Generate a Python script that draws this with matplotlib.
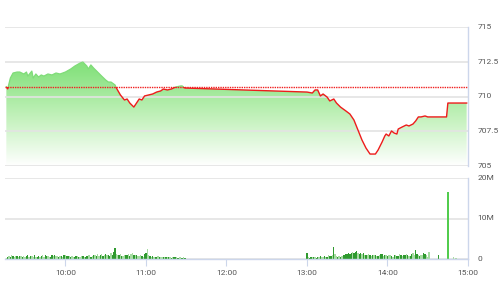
import numpy as np
import pandas as pd
import matplotlib
matplotlib.use("Agg")
import matplotlib.pyplot as plt
import matplotlib.dates as mdates
from matplotlib.colors import LinearSegmentedColormap

DAY = "2020-01-02 "

# intraday index
price_time = ["09:16", "09:17", "09:19", "09:21", "09:24", "09:26", "09:29", "09:31", "09:32",
              "09:35", "09:36", "09:38", "09:40", "09:42", "09:44", "09:47", "09:50", "09:53",
              "09:56", "10:00", "10:04", "10:07", "10:11", "10:13", "10:16", "10:17", "10:19",
              "10:21", "10:24", "10:27", "10:30", "10:32", "10:34", "10:37", "10:38", "10:41",
              "10:44", "10:46", "10:48", "10:51", "10:53", "10:55", "10:57", "10:59", "11:02",
              "11:05", "11:08", "11:11", "11:13", "11:16", "11:19", "11:22", "11:26", "11:27",
              "11:29", "13:00", "13:04", "13:06", "13:08", "13:10", "13:12", "13:15", "13:17",
              "13:20", "13:22", "13:25", "13:29", "13:32", "13:35", "13:38", "13:41", "13:44",
              "13:47", "13:51", "13:53", "13:56", "13:58", "13:59", "14:01", "14:03", "14:05",
              "14:07", "14:08", "14:11", "14:14", "14:16", "14:19", "14:21", "14:23", "14:25",
              "14:28", "14:30", "14:44", "14:45", "14:59"]
price = [710.70, 710.55, 711.33, 711.69, 711.76, 711.76, 711.62, 711.76, 711.47,
         711.83, 711.33, 711.62, 711.40, 711.55, 711.47, 711.62, 711.55, 711.69,
         711.62, 711.76, 711.98, 712.19, 712.41, 712.48, 712.19, 711.98, 712.27,
         712.05, 711.76, 711.47, 711.19, 711.04, 711.04, 710.83, 710.61, 710.11,
         709.75, 709.82, 709.53, 709.24, 709.53, 709.82, 709.75, 710.04, 710.11,
         710.18, 710.32, 710.40, 710.54, 710.47, 710.54, 710.68, 710.76, 710.76,
         710.61, 710.32, 710.25, 710.47, 710.47, 710.04, 710.18, 709.96, 709.68,
         709.82, 709.53, 709.24, 708.96, 708.74, 708.31, 707.59, 706.87, 706.29,
         705.86, 705.86, 706.15, 706.73, 707.16, 707.30, 707.16, 707.52, 707.37,
         707.30, 707.66, 707.81, 707.95, 707.88, 708.02, 708.24, 708.53, 708.53,
         708.60, 708.53, 708.53, 709.53, 709.53]
ref_price = 710.7

# volume in millions, one bar per minute
vol_am = [0.3, 0.6, 0.8, 0.5, 0.9, 0.7, 0.6, 0.8, 0.7, 0.5,
          0.7, 0.8, 0.6, 0.7, 0.6, 0.8, 0.9, 0.6, 0.7, 0.8,
          0.5, 0.9, 0.6, 0.4, 0.7, 0.5, 0.8, 1.0, 0.6, 0.9,
          0.7, 0.8, 0.6, 0.5, 1.1, 0.7, 0.9, 0.8, 0.7, 0.6,
          0.8, 0.7, 0.5, 0.9, 1.0, 0.8, 0.7, 0.8, 0.6, 0.7,
          0.6, 0.5, 0.7, 0.8, 0.6, 0.5, 0.8, 0.7, 0.6, 0.5,
          0.7, 0.9, 1.1, 0.6, 0.8, 0.9, 1.0, 0.7, 1.2, 0.8,
          0.9, 1.3, 0.8, 1.0, 1.2, 0.9, 1.1, 0.8, 1.4, 1.0,
          1.8, 2.8, 1.3, 0.9, 1.0, 1.2, 0.8, 0.7, 1.1, 0.9,
          1.0, 1.3, 0.8, 1.2, 1.5, 0.9, 1.0, 1.1, 0.7, 0.8,
          1.0, 0.8, 0.6, 1.2, 1.6, 2.4, 1.0, 0.8, 0.6, 0.7,
          0.5, 0.6, 0.5, 0.7, 0.4, 0.5, 0.6, 0.5, 0.4, 0.5,
          0.6, 0.4, 0.5, 0.3, 0.5, 0.6, 0.4, 0.5, 0.3, 0.5,
          0.4, 0.3, 0.4, 0.3]
shade_am = ("ldldldlldl" "dldllddldl" "ldlddldlld" "dllddldlld" "ldldlddldl" "lddldlldld"
            "dlldldldll" "dldldlddld" "ddlldldlld" "dldlldldll" "ldlddlldld" "lddldlldld"
            "ldldlddldl" "ldld")
vol_pm = [1.4, 0.5, 0.3, 0.4, 0.6, 0.4, 0.5, 0.3, 0.6, 0.5,
          0.7, 0.5, 0.6, 0.8, 0.5, 0.6, 0.9, 0.7, 0.8, 1.0,
          3.0, 1.2, 0.8, 0.6, 0.7, 0.5, 0.8, 0.9, 1.0, 1.2,
          1.3, 1.5, 1.2, 1.6, 1.8, 1.4, 1.7, 1.9, 1.5, 1.3,
          1.6, 1.2, 1.4, 1.0, 1.1, 0.9, 1.2, 1.0, 0.8, 1.1,
          0.9, 1.0, 0.8, 0.7, 0.9, 1.3, 1.2, 0.8, 0.9, 1.0,
          0.8, 0.9, 1.1, 0.8, 0.6, 0.9, 1.0, 0.7, 0.8, 1.2,
          1.0, 0.8, 1.1, 0.9, 1.3, 1.0, 0.8, 0.7, 1.2, 1.4,
          0.9, 2.1, 1.3, 1.0, 0.8, 1.1, 0.9, 1.5, 1.2, 1.0,
          0.4, 1.7]
shade_pm = ("dlddldlddl" "dlldldlddl" "dlldldlddd" "ddddldddld" "dldldlldld" "ldldlddldl"
            "dlldldlddl" "dlddldlddl" "lddldllddl" "ll")
vol_extra_time = ["14:38", "14:45", "14:49", "14:51"]
vol_extra = [1.0, 16.5, 0.4, 0.2]
shade_extra = "dmll"

hour_ticks = ["10:00", "11:00", "12:00", "13:00", "14:00", "15:00"]
price_ticks = [705, 707.5, 710, 712.5, 715]
price_labels = ["705", "707.5", "710", "712.5", "715"]
vol_ticks = [0, 10, 20]
vol_labels = ["0", "10M", "20M"]

t_price = pd.to_datetime([DAY + s for s in price_time])
t_am = pd.date_range(DAY + "09:16", periods=len(vol_am), freq="1min")
t_pm = pd.date_range(DAY + "13:00", periods=len(vol_pm), freq="1min")
t_vol = list(t_am) + list(t_pm) + list(pd.to_datetime([DAY + s for s in vol_extra_time]))
vol = vol_am + vol_pm + vol_extra
shade = shade_am + shade_pm + shade_extra
shade_col = {"d": "#2f9a2f", "l": "#a6dca2", "m": "#52cc4e"}

xmin = pd.Timestamp(DAY + "09:15")
xmax = pd.Timestamp(DAY + "15:00")
grid_c = "#e3e3e3"
axis_c = "#ccd6eb"
text_c = "#555555"
plt.rcParams["font.family"] = ["Roboto", "DejaVu Sans"]

fig = plt.figure(figsize=(5.01, 3.0), dpi=100)
ax = fig.add_axes([5 / 501, 134 / 300, 463 / 501, 139 / 300])
axv = fig.add_axes([5 / 501, 41 / 300, 463 / 501, 81 / 300])

# price panel
ax.set_xlim(xmin, xmax)
ax.set_ylim(705, 715)
tn = mdates.date2num(t_price)
poly = ax.fill_between(tn, price, 705, color="none", lw=0)
grad = np.linspace(1, 0, 256).reshape(-1, 1)
cmap = LinearSegmentedColormap.from_list("g", ["#ffffff", "#c6f2bf", "#8ce384", "#6cdb64"])
img = ax.imshow(grad, cmap=cmap, aspect="auto", vmin=0, vmax=1,
                extent=[mdates.date2num(xmin), mdates.date2num(xmax), 705, 715], zorder=1)
img.set_clip_path(poly.get_paths()[0], transform=ax.transData)
ax.set_xlim(xmin, xmax)
ax.set_ylim(705, 715)

red, = ax.plot(t_price, price, color="#ee1c1c", lw=1.0, zorder=3)
green, = ax.plot(t_price, price, color="#7fdc78", lw=0.9, zorder=3)
x0, x1 = mdates.date2num(xmin), mdates.date2num(xmax)
low = plt.Rectangle((x0, 700), x1 - x0, ref_price - 700, transform=ax.transData)
high = plt.Rectangle((x0, ref_price), x1 - x0, 20, transform=ax.transData)
red.set_clip_path(low)
green.set_clip_path(high)
ax.axhline(ref_price, color="#f02020", lw=1.0, ls=(0, (1.0, 0.7)), zorder=4)

ax.set_yticks(price_ticks)
ax.set_yticklabels(price_labels)
ax.grid(axis="y", color=grid_c, lw=1.2, zorder=0)
ax.set_xticks([])

# volume panel
colors = [shade_col[c] for c in shade]
axv.bar(t_vol, vol, width=1.0 / 1440, color=colors, lw=0, zorder=2, antialiased=False)
axv.set_xlim(xmin, xmax)
axv.set_ylim(0, 20)
axv.set_yticks(vol_ticks)
axv.set_yticklabels(vol_labels)
axv.grid(axis="y", color=grid_c, lw=1.2, zorder=0)
axv.set_xticks(pd.to_datetime([DAY + s for s in hour_ticks]))
axv.xaxis.set_major_formatter(mdates.DateFormatter("%H:%M"))
axv.tick_params(axis="x", length=5, color=axis_c, labelsize=6, labelcolor=text_c, pad=3)

for a in (ax, axv):
    a.set_facecolor("none")
    a.yaxis.tick_right()
    a.tick_params(axis="y", length=0, labelsize=6, labelcolor=text_c, pad=7)
    for s in ("top", "left"):
        a.spines[s].set_visible(False)
    a.spines["right"].set_color(axis_c)
    a.spines["right"].set_linewidth(1.0)
ax.spines["bottom"].set_visible(False)
axv.spines["bottom"].set_color(axis_c)
axv.spines["bottom"].set_linewidth(1.0)
for lab in ax.get_yticklabels() + axv.get_yticklabels():
    lab.set_verticalalignment("center")

fig.savefig("out.png", dpi=100)
